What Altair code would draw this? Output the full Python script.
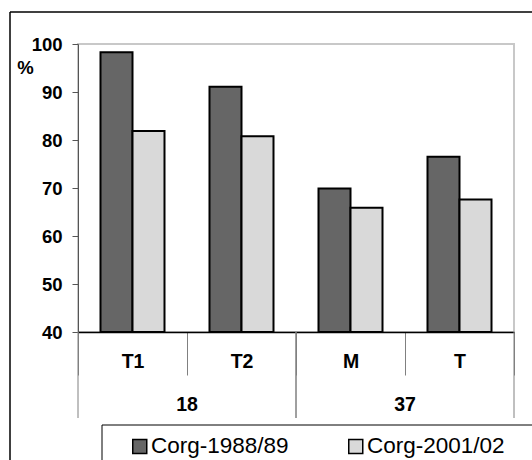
import altair as alt
import pandas as pd

# Soil organic carbon (Corg) by site and horizon, two sampling periods
categories = ["T1", "T2", "M", "T"]
group_names = ["18", "37"]
series = ["Corg-1988/89", "Corg-2001/02"]
corg_1988 = [98.3, 91.1, 69.9, 76.5]
corg_2001 = [81.9, 80.8, 65.9, 67.6]
y_ticks = [40, 50, 60, 70, 80, 90, 100]

bars_df = pd.DataFrame({
    "category": categories * 2,
    "series": [series[0]] * len(categories) + [series[1]] * len(categories),
    "value": corg_1988 + corg_2001,
})
group_df = pd.DataFrame({"group": group_names})
one = pd.DataFrame({"k": [0]})

FONT = "Liberation Sans"
band_scale = alt.Scale(paddingInner=0, paddingOuter=0)

# canvas edges in plot coordinates (plot origin sits at 78, 44)
RIGHT_EDGE = 454
BOTTOM_EDGE = 416


def edge(x, x2, y, y2, width):
    """A straight border segment in pixel coordinates of the plot."""
    return alt.Chart(one).mark_rule(color="black", strokeWidth=width).encode(
        x=alt.value(x), x2=alt.value(x2), y=alt.value(y), y2=alt.value(y2)
    )


# outer frame (top and left edges; it runs off the canvas on the other sides)
frame_top = edge(-68, RIGHT_EDGE, -32, -32, 1.5)
frame_left = edge(-68, -68, -32, BOTTOM_EDGE, 1.5)

# legend panel: top and left edges
legend_top = edge(24, RIGHT_EDGE, 381, 381, 1)
legend_left = edge(24, 24, 381, BOTTOM_EDGE, 1)

bars = alt.Chart(bars_df).mark_bar(stroke="black", strokeWidth=2).encode(
    x=alt.X(
        "category:N", sort=categories, scale=band_scale,
        axis=alt.Axis(
            title=None, labelAngle=0, labelFont=FONT, labelFontSize=19.5,
            labelFontWeight="bold", labelColor="black", labelBaseline="middle",
            labelPadding=-13.5, domainColor="black", domainWidth=1.5,
            tickColor="#808080", tickWidth=1, tickSize=43, tickBand="extent",
            grid=False,
        ),
    ),
    xOffset=alt.XOffset("series:N", sort=series,
                        scale=alt.Scale(paddingInner=0, paddingOuter=0.703)),
    y=alt.Y(
        "value:Q", scale=alt.Scale(domain=[40, 100], zero=False, nice=False),
        axis=alt.Axis(
            values=y_ticks, title="%", titleAngle=0, titleX=-53, titleY=23,
            titleAlign="center", titleBaseline="middle", titleFont=FONT,
            titleFontSize=18.5, titleFontWeight="bold", titleColor="black",
            labelFont=FONT, labelFontSize=18.5, labelFontWeight="bold",
            labelColor="black", labelPadding=10, tickSize=6, tickColor="#555555",
            domainColor="#555555", grid=False,
        ),
    ),
    y2=alt.datum(40),
    color=alt.Color(
        "series:N", sort=series,
        scale=alt.Scale(domain=series, range=["#666666", "#d9d9d9"]),
        legend=alt.Legend(
            title=None, orient="none", legendX=50.5, legendY=391,
            direction="horizontal", symbolType="square", symbolSize=196,
            symbolStrokeColor="black", symbolStrokeWidth=1.5, symbolOpacity=1,
            labelFont=FONT, labelFontSize=22.5, labelColor="black",
            labelOffset=0, columnPadding=55, padding=0,
        ),
    ),
)

group_x = dict(sort=group_names, scale=band_scale, axis=None)

group_text = alt.Chart(group_df).mark_text(
    font=FONT, fontSize=19.5, fontWeight="bold", color="black", baseline="middle"
).encode(
    x=alt.X("group:N", **group_x),
    y=alt.value(361),
    text="group:N",
)

group_start = alt.Chart(group_df).mark_rule(color="#808080", strokeWidth=1).encode(
    x=alt.X("group:N", bandPosition=0, **group_x),
    y=alt.value(288), y2=alt.value(374),
)
group_end = alt.Chart(group_df).mark_rule(color="#808080", strokeWidth=1).encode(
    x=alt.X("group:N", bandPosition=1, **group_x),
    y=alt.value(288), y2=alt.value(374),
)

chart = alt.layer(
    frame_top, frame_left, legend_top, legend_left,
    bars, group_start, group_end, group_text
).resolve_scale(
    x="independent"
).properties(
    width=436, height=288,
    autosize=alt.AutoSizeParams(type="none"),
    padding={"left": 78, "top": 44, "right": 18, "bottom": 128},
    background="white",
).configure_view(stroke="#c8c8c8", strokeWidth=2)

chart.save("out.html", embed_options={"renderer": "svg", "actions": False})
